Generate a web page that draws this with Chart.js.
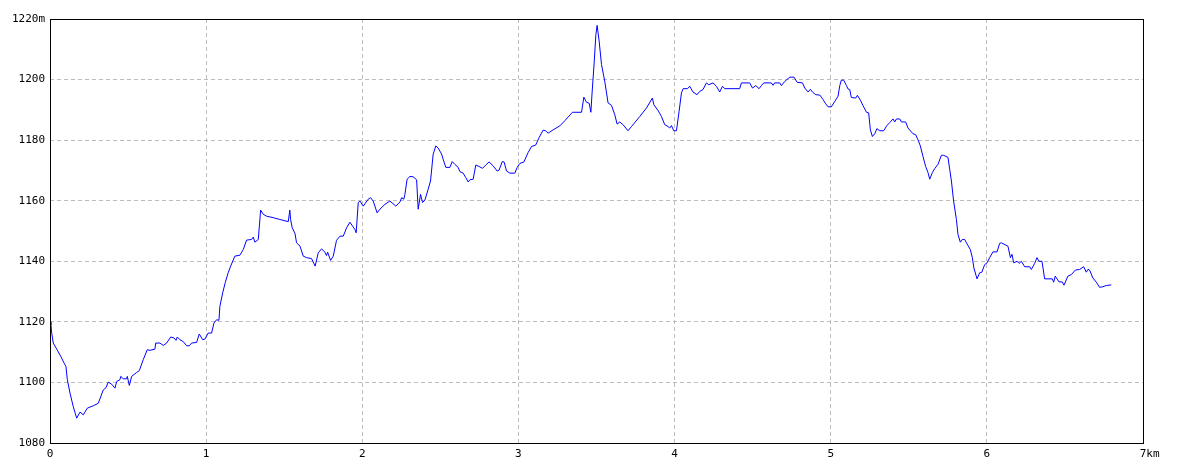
<!DOCTYPE html>
<html>
<head>
<meta charset="utf-8">
<script src="https://cdn.jsdelivr.net/npm/chart.js@4/dist/chart.umd.min.js"></script>
<style>
  html, body { margin: 0; padding: 0; background: #fff; }
  #wrap { width: 1184px; height: 473px; }
</style>
</head>
<body>
<div id="wrap"><canvas id="profile"></canvas></div>
<script>
// distance along the track (km) and elevation (m)
const dist = [
  0, 0.006, 0.011, 0.021, 0.043, 0.069, 0.090, 0.102, 0.111, 0.128, 0.149, 0.171, 0.192, 0.213, 0.239, 0.277,
  0.309, 0.341, 0.359, 0.373, 0.395, 0.416, 0.427, 0.448, 0.453, 0.469, 0.491, 0.495, 0.508, 0.523, 0.555, 0.572,
  0.597, 0.623, 0.640, 0.672, 0.677, 0.704, 0.725, 0.747, 0.773, 0.794, 0.807, 0.815, 0.832, 0.853, 0.875, 0.892,
  0.907, 0.939, 0.956, 0.978, 0.992, 1.013, 1.035, 1.050, 1.067, 1.082, 1.088, 1.106, 1.122, 1.141, 1.157, 1.184,
  1.216, 1.238, 1.259, 1.291, 1.302, 1.312, 1.334, 1.349, 1.366, 1.387, 1.430, 1.472, 1.526, 1.536, 1.541, 1.551,
  1.569, 1.579, 1.601, 1.622, 1.643, 1.675, 1.698, 1.718, 1.739, 1.761, 1.771, 1.778, 1.797, 1.814, 1.835, 1.857,
  1.878, 1.900, 1.921, 1.938, 1.953, 1.961, 1.974, 1.985, 2.006, 2.038, 2.053, 2.070, 2.095, 2.113, 2.145, 2.177,
  2.215, 2.241, 2.252, 2.266, 2.273, 2.287, 2.305, 2.326, 2.348, 2.358, 2.373, 2.386, 2.401, 2.422, 2.437, 2.454,
  2.471, 2.486, 2.508, 2.518, 2.535, 2.561, 2.576, 2.593, 2.614, 2.625, 2.646, 2.663, 2.678, 2.689, 2.710, 2.727,
  2.748, 2.770, 2.791, 2.812, 2.838, 2.864, 2.876, 2.896, 2.908, 2.924, 2.945, 2.977, 2.992, 3.009, 3.035, 3.062,
  3.084, 3.111, 3.133, 3.158, 3.174, 3.190, 3.222, 3.265, 3.297, 3.346, 3.404, 3.419, 3.436, 3.453, 3.464, 3.472,
  3.485, 3.496, 3.504, 3.517, 3.532, 3.553, 3.574, 3.596, 3.617, 3.632, 3.649, 3.670, 3.702, 3.724, 3.777, 3.820,
  3.858, 3.867, 3.894, 3.916, 3.937, 3.958, 3.969, 3.980, 3.995, 4.012, 4.029, 4.044, 4.055, 4.083, 4.097, 4.118,
  4.144, 4.161, 4.182, 4.204, 4.219, 4.246, 4.268, 4.289, 4.307, 4.321, 4.417, 4.428, 4.481, 4.499, 4.520, 4.541,
  4.556, 4.571, 4.620, 4.631, 4.641, 4.674, 4.684, 4.706, 4.738, 4.765, 4.785, 4.819, 4.834, 4.855, 4.870, 4.883,
  4.904, 4.930, 4.951, 4.968, 4.983, 5.004, 5.026, 5.047, 5.058, 5.068, 5.083, 5.101, 5.111, 5.122, 5.132, 5.160,
  5.171, 5.190, 5.207, 5.229, 5.243, 5.254, 5.267, 5.282, 5.296, 5.314, 5.339, 5.360, 5.378, 5.399, 5.410, 5.421,
  5.442, 5.453, 5.480, 5.495, 5.527, 5.544, 5.559, 5.574, 5.591, 5.608, 5.623, 5.634, 5.651, 5.666, 5.687, 5.709,
  5.723, 5.751, 5.762, 5.773, 5.787, 5.805, 5.815, 5.830, 5.843, 5.858, 5.879, 5.894, 5.907, 5.917, 5.937, 5.954,
  5.968, 5.986, 6.001, 6.018, 6.039, 6.065, 6.082, 6.093, 6.135, 6.151, 6.161, 6.172, 6.193, 6.206, 6.221, 6.242,
  6.274, 6.285, 6.306, 6.321, 6.334, 6.353, 6.370, 6.419, 6.428, 6.438, 6.462, 6.483, 6.494, 6.519, 6.541, 6.567,
  6.594, 6.620, 6.637, 6.647, 6.658, 6.679, 6.701, 6.722, 6.743, 6.765, 6.797
]
const elev = [
  1120, 1119, 1116.3, 1113, 1111, 1108.6, 1106.4, 1105.3, 1100.9, 1096.5, 1092, 1088.2, 1090.2, 1089.3, 1091.5, 1092.3,
  1093.1, 1097.5, 1098.3, 1100.1, 1099.4, 1098.1, 1100.3, 1100.9, 1102, 1101.2, 1101.2, 1102, 1099, 1102, 1103.3, 1103.9,
  1107.5, 1110.8, 1110.6, 1111, 1113, 1113, 1112.2, 1113, 1115, 1114.7, 1113.9, 1115, 1114.1, 1113.5, 1112.1, 1112.1,
  1113, 1113.2, 1116, 1114.1, 1114.3, 1116.3, 1116.3, 1119.6, 1120.7, 1120.5, 1125.1, 1129.6, 1132.9, 1136.2, 1138.4, 1141.7,
  1142, 1143.9, 1147, 1147.2, 1148, 1146.3, 1147.2, 1156.9, 1155.5, 1154.9, 1154.4, 1153.8, 1153.1, 1156.9, 1153.8, 1151.1,
  1149.2, 1146.1, 1145, 1141.7, 1141.2, 1140.9, 1138.4, 1142.8, 1144.1, 1143, 1141.9, 1143, 1140.3, 1141.7, 1146.9, 1148.3,
  1148.3, 1151.1, 1152.9, 1151.6, 1150.5, 1149.4, 1159.4, 1159.9, 1158.2, 1160.5, 1161, 1159.9, 1156, 1157.2, 1158.8, 1159.9,
  1158.2, 1159.6, 1161, 1160.5, 1162.1, 1167.1, 1168, 1167.9, 1166.9, 1157.2, 1162.1, 1159.4, 1160.2, 1163.8, 1166.5, 1175.4,
  1178.1, 1177.4, 1175.4, 1173.7, 1171, 1171, 1172.9, 1172, 1171, 1169.6, 1169.1, 1167.6, 1166.2, 1166.9, 1167.1, 1171.8,
  1171.3, 1170.7, 1171.8, 1172.8, 1171.5, 1169.8, 1170.1, 1172.9, 1172.8, 1169.8, 1169.1, 1169.1, 1171, 1172.3, 1172.8, 1175.9,
  1177.9, 1178.4, 1180.9, 1183.3, 1183.1, 1182.3, 1183.4, 1184.7, 1186.4, 1189.2, 1189.2, 1194.2, 1192.5, 1192.2, 1189.2, 1195.9,
  1205.5, 1214.9, 1217.9, 1212.7, 1205, 1199.4, 1192.3, 1191.5, 1188.4, 1185.3, 1186, 1185.1, 1183.1, 1184.5, 1187.8, 1190.6,
  1193.9, 1191.7, 1189.8, 1187.8, 1185.1, 1184.5, 1184, 1184.8, 1183.1, 1183.1, 1189.5, 1195.6, 1197, 1197, 1197.8, 1195.9,
  1195, 1196.1, 1196.7, 1198.9, 1198.3, 1198.9, 1197.8, 1195.9, 1197.8, 1197, 1197, 1198.9, 1198.9, 1197.2, 1198, 1197,
  1198, 1198.9, 1198.9, 1198.1, 1198.9, 1198.9, 1198, 1199.4, 1200.8, 1200.8, 1199.1, 1198.9, 1197.2, 1195.9, 1196.8, 1195.9,
  1195, 1194.9, 1193.4, 1192, 1191, 1191, 1192.8, 1194.5, 1198, 1199.8, 1199.8, 1198, 1196.9, 1196.7, 1194.1, 1193.9,
  1194.8, 1193.2, 1191.4, 1189.2, 1189, 1183.4, 1181.2, 1182.1, 1183.8, 1183.1, 1183.1, 1184.8, 1185.8, 1187, 1186, 1187,
  1187, 1186, 1186, 1184, 1182.1, 1181.8, 1180.1, 1178.1, 1174.6, 1171.3, 1169.3, 1167.1, 1169.3, 1170.6, 1172, 1175,
  1175, 1174.3, 1170.4, 1166.5, 1159.9, 1153.8, 1148.9, 1146.3, 1147.2, 1147.2, 1145.2, 1143.9, 1141.2, 1137.8, 1134.2, 1136.2,
  1136.4, 1138.9, 1139.5, 1141.2, 1143.1, 1143.1, 1145.9, 1146.1, 1145, 1141.2, 1142.3, 1139.5, 1140, 1139.3, 1140, 1138.2,
  1138.2, 1137.3, 1139.3, 1141.2, 1140, 1140, 1134.2, 1134.2, 1133.1, 1135.1, 1133.2, 1133.2, 1132.1, 1135.1, 1135.6, 1137.1,
  1137.3, 1138.2, 1136.4, 1137.3, 1137.1, 1134.5, 1133.1, 1131.4, 1131.6, 1132, 1132.2
]

const xMin = 0, xMax = 7, xStep = 1
const yMin = 1080, yMax = 1220, yStep = 20

const points = dist.map((d, i) => ({x: d, y: elev[i]}))

// black frame all the way round the plot
const frame = {
  id: 'frame',
  afterDraw(chart){
    const {ctx, chartArea: a} = chart
    ctx.save()
    ctx.strokeStyle = '#000'
    ctx.lineWidth = 1
    ctx.strokeRect(a.left + 0.5, a.top + 0.5, a.right - a.left, a.bottom - a.top)
    ctx.restore()
  }
}

const tickFont = {family: 'DejaVu Sans Mono', size: 11}

new Chart(document.getElementById('profile'), {
  type: 'line',
  data: {
    datasets: [{
      data: points,
      borderColor: '#0000ff',
      borderWidth: 1,
      pointRadius: 0,
      tension: 0,
      fill: false
    }]
  },
  options: {
    responsive: true,
    maintainAspectRatio: false,
    animation: false,
    layout: {padding: {top: 19, right: 41, left: 0, bottom: 0}},
    plugins: {legend: {display: false}, tooltip: {enabled: false}},
    scales: {
      x: {
        type: 'linear',
        min: xMin, max: xMax,
        afterFit(s){ s.height = 30 },
        ticks: {
          stepSize: xStep, color: '#000', font: tickFont, padding: 5, maxRotation: 0,
          // unit label sits a little right of the last tick
          callback: v => v === xMax ? '  ' + v + 'km' : String(v)
        },
        grid: {color: '#bdbdbd', drawTicks: false},
        border: {display: false, dash: [4, 3]}
      },
      y: {
        min: yMin, max: yMax,
        afterFit(s){ s.width = 50 },
        ticks: {
          stepSize: yStep, color: '#000', font: tickFont, padding: 5,
          callback: v => v === yMax ? v + 'm' : String(v)
        },
        grid: {color: '#bdbdbd', drawTicks: false},
        border: {display: false, dash: [4, 3]}
      }
    }
  },
  plugins: [frame]
})
</script>
</body>
</html>
